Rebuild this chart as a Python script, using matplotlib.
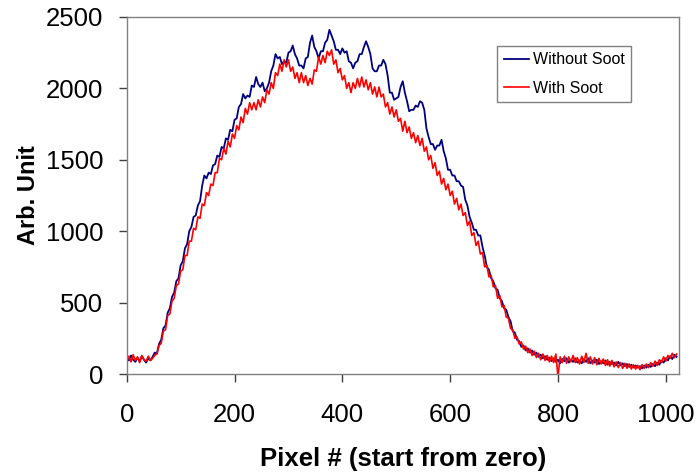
import matplotlib
matplotlib.use('Agg')
import matplotlib.pyplot as plt
import numpy as np

step = 4
without_soot = [
    120, 95, 130, 100, 85, 115, 90, 125, 100, 80, 110, 95, 120,
    150, 145, 210, 240, 320, 340, 430, 460, 540, 570, 650, 670, 760, 790, 880, 910,
    1000, 1030, 1100, 1110, 1180, 1210, 1320, 1390, 1370, 1410, 1400, 1460, 1470,
    1530, 1520, 1590, 1580, 1650, 1640, 1710, 1700, 1780, 1790, 1870, 1890, 1960,
    1930, 1950, 1940, 2020, 2010, 2080, 2030, 2010, 2040, 1980, 2000, 2040, 2120,
    2160, 2240, 2210, 2220, 2170, 2190, 2180, 2250, 2260, 2300, 2240, 2210, 2160,
    2160, 2140, 2210, 2220, 2320, 2370, 2290, 2260, 2210, 2260, 2260, 2320, 2340,
    2410, 2370, 2330, 2270, 2270, 2240, 2280, 2250, 2260, 2190, 2180, 2140, 2180,
    2190, 2240, 2240, 2290, 2330, 2290, 2240, 2140, 2120, 2120, 2160, 2160, 2200,
    2170, 2090, 1970, 1970, 1920, 1930, 1940, 2010, 2050, 1970, 1910, 1840, 1850,
    1850, 1880, 1870, 1910, 1900, 1850, 1720, 1660, 1610, 1610, 1570, 1600, 1600,
    1640, 1560, 1510, 1430, 1430, 1390, 1390, 1350, 1350, 1320, 1310, 1220, 1180,
    1100, 1060, 1010, 1010, 970, 970, 890, 830, 750, 730, 670, 650, 600, 590, 530,
    510, 460, 450, 400, 370, 300, 290, 240, 230, 190, 200, 165, 180, 150, 165, 135,
    150, 120, 135, 110, 125, 100, 115, 90, 110, 85, 100, 75, 105, 90, 110, 80, 100,
    85, 110, 80, 95, 75, 105, 85, 110, 75, 95, 80, 100, 70, 90, 75, 95, 65, 85, 70,
    80, 60, 85, 60, 75, 55, 70, 50, 65, 45, 60, 45, 55, 40, 60, 45, 65, 50, 70, 55,
    80, 65, 95, 80, 110, 95, 125, 105, 135, 120,
]
with_soot = [
    90, 125, 85, 135, 95, 120, 80, 130, 100, 90, 125, 95, 110,
    130, 140, 200, 215, 300, 310, 410, 420, 510, 530, 620, 630, 720, 730, 830, 830,
    930, 930, 1020, 1010, 1100, 1090, 1190, 1180, 1270, 1250, 1330, 1320, 1410,
    1410, 1510, 1500, 1580, 1540, 1630, 1590, 1680, 1650, 1740, 1710, 1800, 1760,
    1860, 1820, 1900, 1850, 1900, 1850, 1920, 1870, 1940, 1900, 1990, 1960, 2040,
    2000, 2110, 2090, 2170, 2120, 2200, 2150, 2200, 2120, 2150, 2070, 2110, 2040,
    2110, 2040, 2090, 2020, 2070, 2030, 2130, 2120, 2220, 2170, 2230, 2180, 2260,
    2230, 2270, 2170, 2200, 2110, 2140, 2060, 2090, 2000, 2040, 1970, 2040, 2000,
    2070, 2010, 2080, 2010, 2060, 1990, 2040, 1960, 2010, 1940, 2010, 1940, 1960,
    1870, 1900, 1820, 1870, 1800, 1850, 1770, 1790, 1700, 1770, 1690, 1730, 1650,
    1690, 1620, 1670, 1600, 1650, 1560, 1590, 1500, 1530, 1440, 1480, 1390, 1420,
    1330, 1370, 1290, 1330, 1250, 1280, 1190, 1230, 1150, 1190, 1110, 1130, 1040,
    1070, 970, 990, 900, 930, 840, 850, 750, 760, 680, 690, 610, 620, 530, 550, 470,
    480, 400, 390, 320, 310, 250, 260, 210, 225, 175, 195, 150, 175, 130, 160, 115,
    145, 100, 140, 95, 130, 85, 125, 80, 140, -20, 120, 80, 125, 75, 120, 85, 130,
    80, 115, 70, 125, 80, 145, 75, 120, 70, 115, 65, 110, 70, 105, 60, 100, 55, 95,
    50, 85, 45, 80, 40, 75, 40, 70, 35, 65, 35, 60, 30, 65, 40, 70, 45, 80, 55, 90,
    60, 100, 80, 120, 90, 130, 110, 145, 115, 140,
]

plt.rcParams['font.family'] = ['Liberation Sans', 'DejaVu Sans']

fig = plt.figure(figsize=(6.97, 4.72), dpi=100)
ax = fig.add_axes([0.1818, 0.2076, 0.7920, 0.7564])

x_wo = np.arange(len(without_soot)) * step
x_w = np.arange(len(with_soot)) * step
ax.plot(x_wo, without_soot, color='#000080', lw=1.3, label='Without Soot')
ax.plot(x_w, with_soot, color='#FF0000', lw=1.2, label='With Soot')

ax.set_xlim(0, 1024)
ax.set_ylim(0, 2500)
ax.set_xticks([0, 200, 400, 600, 800, 1000])
ax.set_yticks([0, 500, 1000, 1500, 2000, 2500])

for s in ax.spines.values():
    s.set_color('#808080')
    s.set_linewidth(1.0)
ax.tick_params(direction='out', length=6, width=1, colors='#404040',
               labelcolor='black', labelsize=18.5)
ax.tick_params(axis='x', pad=15)
ax.tick_params(axis='y', pad=11)

ax.set_xlabel('Pixel # (start from zero)', fontsize=18.5, fontweight='bold', labelpad=14)
ax.set_ylabel('Arb. Unit', fontsize=17, fontweight='bold', labelpad=4)

leg = ax.legend(loc='upper left', bbox_to_anchor=(0.671, 0.919), fontsize=11.5,
                frameon=True, fancybox=False, handlelength=1.6, handletextpad=0.25,
                borderpad=0.4, labelspacing=0.85, borderaxespad=0)
leg.get_frame().set_edgecolor('#606060')
leg.get_frame().set_linewidth(1.0)

plt.savefig('out.png', dpi=100)
